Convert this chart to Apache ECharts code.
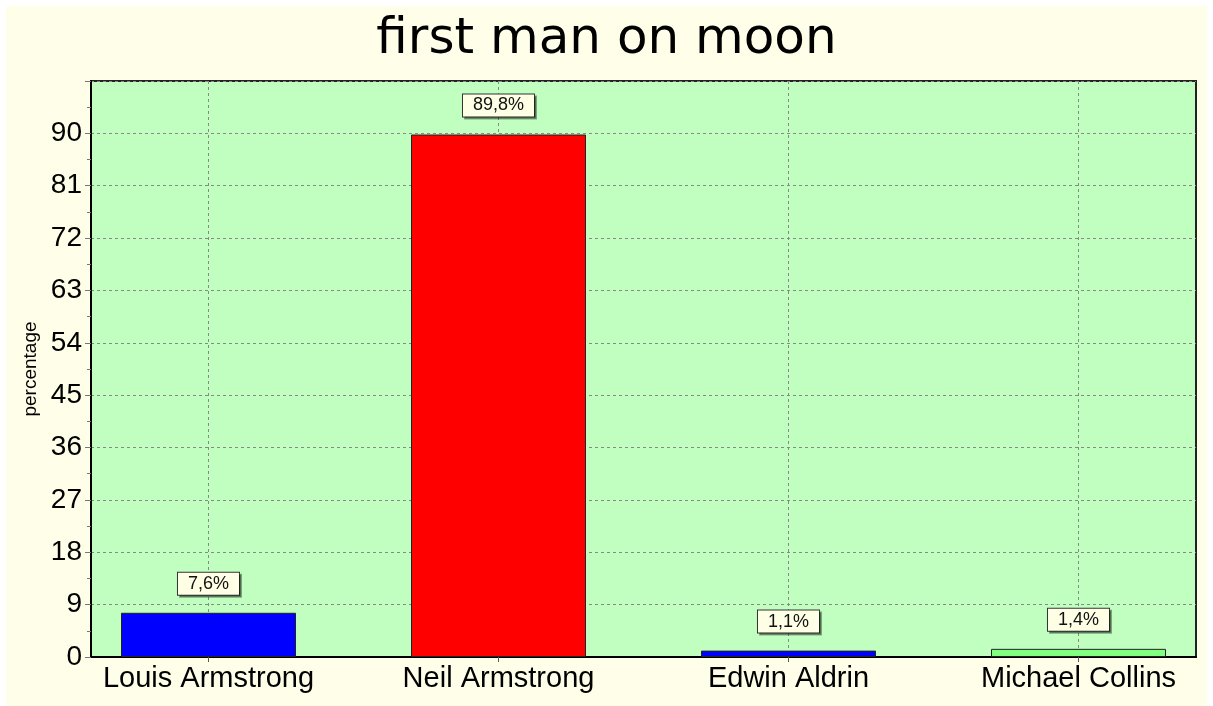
<!DOCTYPE html>
<html>
<head>
<meta charset="utf-8">
<title>first man on moon</title>
<script src="https://cdn.jsdelivr.net/npm/echarts@6/dist/echarts.min.js"></script>
<style>
    html, body {
        margin: 0;
        padding: 0;
        background: #ffffff;
    }
    #chart {
        position: absolute;
        left: 6px;
        top: 6px;
        width: 1201px;
        height: 700px;
        background: #fffee8;
    }
</style>
</head>
<body>
<div id="chart"></div>
<script>
// =====================================
// Data
// =====================================

const titleText = "first man on moon";
const yAxisName = "percentage";

const names = [
    "Louis Armstrong",
    "Neil Armstrong",
    "Edwin Aldrin",
    "Michael Collins"
];

const percents = [7.6, 89.8, 1.1, 1.4];

const barColors = [
    "#0000ff",
    "#ff0000",
    "#0000ff",
    "#80ff80"
];

const yMin = 0;
const yMax = 99;
const yStep = 9;

// =====================================
// Chart
// =====================================

let chart = null;

document.addEventListener(
    "DOMContentLoaded",
    initChart
);

function initChart() {
    chart =
        echarts.init(
            document.getElementById("chart")
        );

    const plotTop = 75;
    const plotBottom = 49;

    chart.setOption({
        animation: false,
        textStyle: {
            fontFamily: "Liberation Sans"
        },
        title: {
            text: titleText,
            left: "center",
            top: 9,
            padding: 0,
            textStyle: {
                fontFamily: "DejaVu Sans",
                fontWeight: "normal",
                fontSize: 50,
                color: "#000"
            }
        },
        grid: [
            {
                // plot background + y axis
                left: 85,
                right: 11,
                top: plotTop,
                bottom: plotBottom,
                show: true,
                backgroundColor: "#c0ffc0",
                borderColor: "#222",
                borderWidth: 2
            },
            {
                // bars, category centres
                left: 202.5,
                right: 128.5,
                top: plotTop,
                bottom: plotBottom
            }
        ],
        xAxis: [
            {
                gridIndex: 0,
                type: "value",
                min: 0,
                max: 1,
                axisLine: {
                    show: true,
                    lineStyle: {
                        color: "#000",
                        width: 2
                    }
                },
                axisTick: { show: false },
                axisLabel: { show: false },
                splitLine: { show: false }
            },
            {
                gridIndex: 1,
                type: "category",
                data: names,
                boundaryGap: false,
                axisLine: { show: false },
                axisTick: {
                    show: true,
                    length: 5,
                    lineStyle: { color: "#555" }
                },
                axisLabel: {
                    margin: 7,
                    fontSize: 29,
                    color: "#000"
                },
                splitLine: {
                    show: true,
                    lineStyle: {
                        color: "#888",
                        type: [3, 3],
                        width: 1
                    }
                }
            }
        ],
        yAxis: [
            {
                gridIndex: 0,
                type: "value",
                min: yMin,
                max: yMax,
                interval: yStep,
                name: yAxisName,
                nameLocation: "middle",
                nameGap: 47,
                nameTextStyle: {
                    fontSize: 19,
                    color: "#000"
                },
                axisLine: {
                    show: true,
                    lineStyle: {
                        color: "#000",
                        width: 2
                    }
                },
                axisTick: {
                    show: true,
                    length: 6,
                    lineStyle: { color: "#777" }
                },
                minorTick: {
                    show: true,
                    splitNumber: 2,
                    length: 4,
                    lineStyle: { color: "#777" }
                },
                axisLabel: {
                    margin: 9,
                    fontSize: 28,
                    color: "#000",
                    showMaxLabel: false
                },
                splitLine: {
                    show: true,
                    lineStyle: {
                        color: "#888",
                        type: [3, 3],
                        width: 1
                    }
                }
            },
            {
                gridIndex: 1,
                type: "value",
                min: yMin,
                max: yMax,
                interval: yStep,
                show: false,
                splitLine: { show: false }
            }
        ],
        series: [{
            type: "bar",
            xAxisIndex: 1,
            yAxisIndex: 1,
            barWidth: 175,
            data: percents.map(
                (v, i) => ({
                    value: v,
                    itemStyle: {
                        color: barColors[i]
                    }
                })
            ),
            itemStyle: {
                borderColor: "#222",
                borderWidth: 1
            },
            label: {
                show: true,
                position: "top",
                distance: 18,
                formatter: p =>
                    String(p.value).replace(".", ",") + "%",
                fontSize: 18,
                lineHeight: 18,
                color: "#111",
                backgroundColor: "#ffffe6",
                borderColor: "#333",
                borderWidth: 1,
                padding: [2, 10],
                shadowColor: "rgba(0,0,0,0.35)",
                shadowOffsetX: 2,
                shadowOffsetY: 2,
                shadowBlur: 0
            }
        }]
    });
}

window.addEventListener(
    "resize",
    () => {
        if (chart)
            chart.resize();
    }
);
</script>
</body>
</html>
